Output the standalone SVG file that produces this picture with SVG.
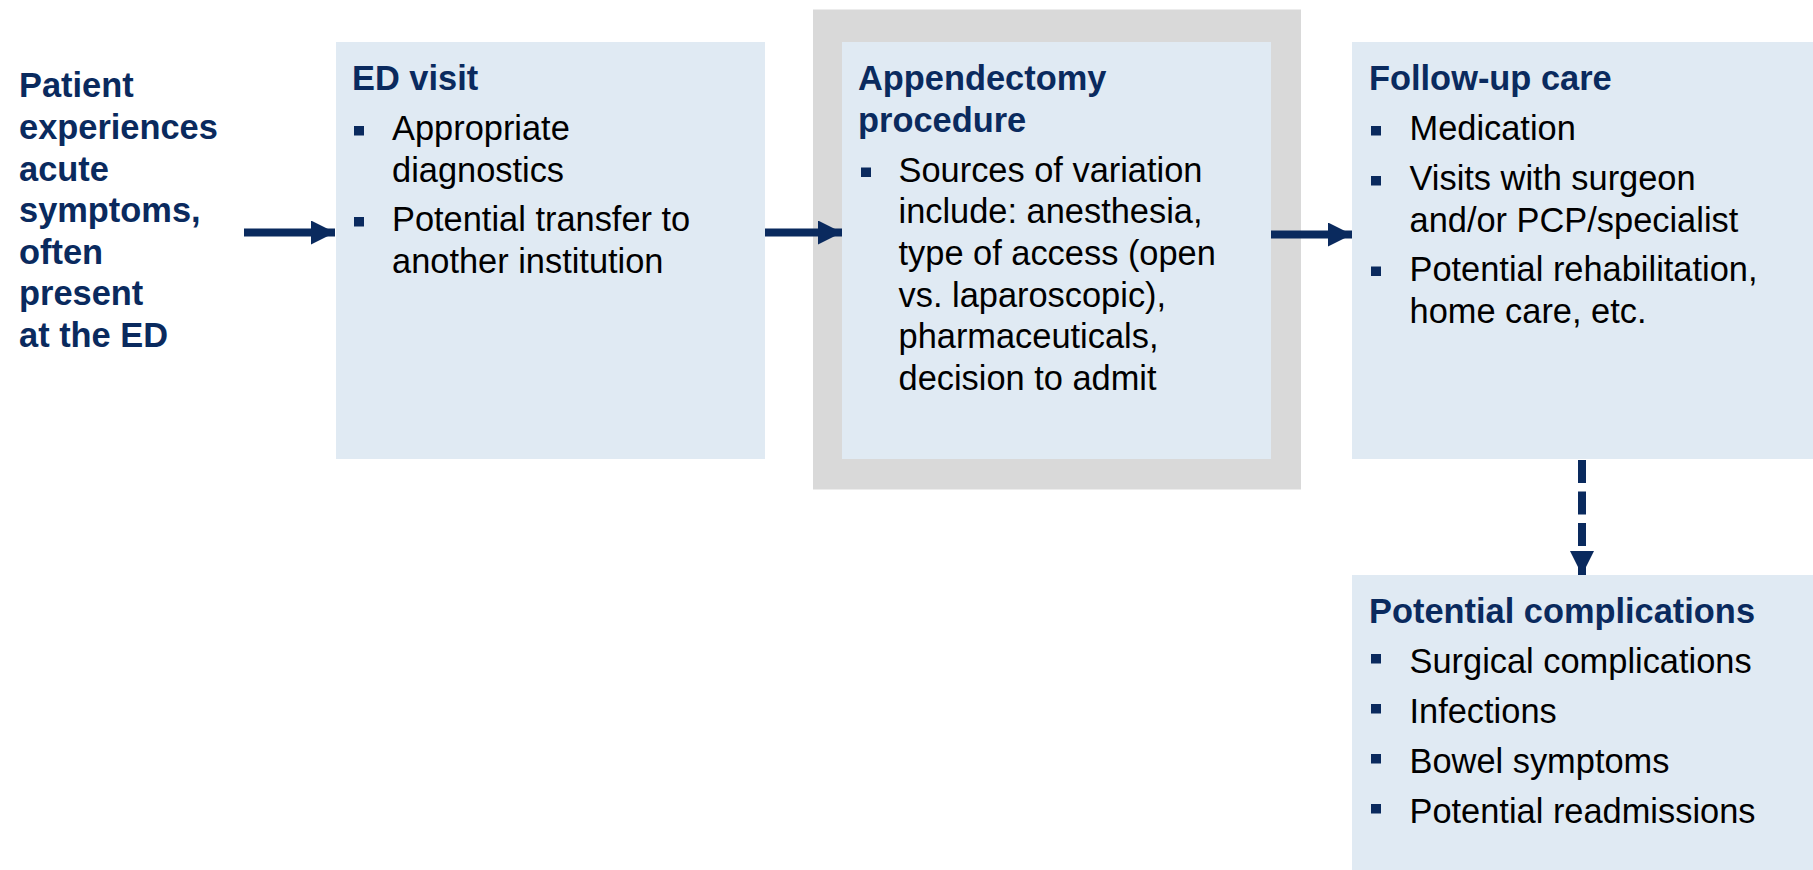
<svg xmlns="http://www.w3.org/2000/svg" width="1813" height="870" viewBox="0 0 1813 870">
<defs>
<style>
.box{fill:#E0EAF3}
.frame{fill:#D9D9D9}
.h{font-family:"Liberation Sans",Arial,sans-serif;font-weight:bold;font-size:34.4px;fill:#0A2A5E}
.t{font-family:"Liberation Sans",Arial,sans-serif;font-size:34.4px;fill:#000}
.b{fill:#0A2A5E}
.c{stroke:#0A2A5E;stroke-width:8;fill:none}
.d{stroke-dasharray:23 8.5}
</style>
<marker id="ah" markerUnits="userSpaceOnUse" markerWidth="24" markerHeight="24" refX="24" refY="12" orient="auto" viewBox="0 0 24 24">
<path d="M0,0 L24,12 L0,24 Z" fill="#0A2A5E"/>
</marker>
</defs>
<rect width="1813" height="870" fill="#fff"/>

<g id="start">
<text class="h" x="19" y="97">Patient</text>
<text class="h" x="19" y="138.5">experiences</text>
<text class="h" x="19" y="180.5">acute</text>
<text class="h" x="19" y="222">symptoms,</text>
<text class="h" x="19" y="263.5">often</text>
<text class="h" x="19" y="305">present</text>
<text class="h" x="19" y="346.5">at the ED</text>
</g>

<g id="ed-visit">
<rect class="box" x="336" y="42" width="429" height="417"/>
<text class="h" x="352" y="90">ED visit</text>
<rect class="b" x="354" y="126" width="10" height="9.5"/>
<text class="t" x="392" y="140">Appropriate</text>
<text class="t" x="392" y="181.5">diagnostics</text>
<rect class="b" x="354" y="217" width="10" height="9.5"/>
<text class="t" x="392" y="231">Potential transfer to</text>
<text class="t" x="392" y="272.5">another institution</text>
</g>

<g id="appendectomy">
<rect class="frame" x="813" y="9.5" width="488" height="480"/>
<rect class="box" x="842" y="42" width="429" height="417"/>
<text class="h" x="858" y="90">Appendectomy</text>
<text class="h" x="858" y="131.5">procedure</text>
<rect class="b" x="861" y="167.5" width="10" height="9.5"/>
<text class="t" x="898.5" y="181.5">Sources of variation</text>
<text class="t" x="898.5" y="223">include: anesthesia,</text>
<text class="t" x="898.5" y="265">type of access (open</text>
<text class="t" x="898.5" y="306.5">vs. laparoscopic),</text>
<text class="t" x="898.5" y="348">pharmaceuticals,</text>
<text class="t" x="898.5" y="389.5">decision to admit</text>
</g>

<g id="follow-up">
<rect class="box" x="1352" y="42" width="461" height="417"/>
<text class="h" x="1369" y="90">Follow-up care</text>
<rect class="b" x="1371" y="126" width="10" height="9.5"/>
<text class="t" x="1409.5" y="140">Medication</text>
<rect class="b" x="1371" y="176" width="10" height="9.5"/>
<text class="t" x="1409.5" y="190">Visits with surgeon</text>
<text class="t" x="1409.5" y="231.5">and/or PCP/specialist</text>
<rect class="b" x="1371" y="266.5" width="10" height="9.5"/>
<text class="t" x="1409.5" y="280.5">Potential rehabilitation,</text>
<text class="t" x="1409.5" y="322.5">home care, etc.</text>
</g>

<g id="complications">
<rect class="box" x="1352" y="575" width="461" height="295"/>
<text class="h" x="1369" y="622.5">Potential complications</text>
<rect class="b" x="1371" y="654" width="10" height="9.5"/>
<text class="t" x="1409.5" y="672.5">Surgical complications</text>
<rect class="b" x="1371" y="704" width="10" height="9.5"/>
<text class="t" x="1409.5" y="722.5">Infections</text>
<rect class="b" x="1371" y="754" width="10" height="9.5"/>
<text class="t" x="1409.5" y="772.5">Bowel symptoms</text>
<rect class="b" x="1371" y="804" width="10" height="9.5"/>
<text class="t" x="1409.5" y="822.5">Potential readmissions</text>
</g>

<g id="connectors">
<path class="c" d="M244,232.5 H335" marker-end="url(#ah)"/>
<path class="c" d="M765,232.5 H842" marker-end="url(#ah)"/>
<path class="c" d="M1271,234.5 H1352" marker-end="url(#ah)"/>
<path class="c d" d="M1582,460 V575" marker-end="url(#ah)"/>
</g>
</svg>
